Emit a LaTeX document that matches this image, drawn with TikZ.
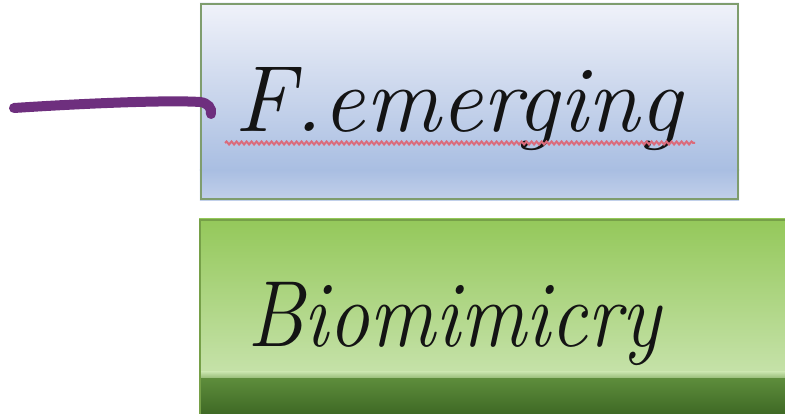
\documentclass[tikz,border=0pt]{standalone}
\usetikzlibrary{decorations.pathmorphing,backgrounds}
\definecolor{frameGreen}{HTML}{7F9D6E}
\definecolor{skyTop}{HTML}{F0F2FA}
\definecolor{skyMid}{HTML}{CAD6EC}
\definecolor{skyLow}{HTML}{A9BEE2}
\definecolor{skyBot}{HTML}{C2D0EA}
\definecolor{leafTop}{HTML}{94C85A}
\definecolor{leafMid}{HTML}{C6E2AA}
\definecolor{leafDarkTop}{HTML}{5E8E3C}
\definecolor{leafDarkBot}{HTML}{3C6623}
\definecolor{inkPurple}{HTML}{6E2F7E}
\definecolor{waveRed}{HTML}{D2465A}
\tikzset{
  boxframe/.style={draw=frameGreen, line width=2.2pt, inner sep=0pt},
  bigword/.style={font=\fontsize{94}{100}\selectfont\itshape, text=black!92, inner sep=0pt, anchor=base},
}
\begin{document}
\begin{tikzpicture}[x=1pt,y=1pt]
\useasboundingbox (0,0) rectangle (785,414);

% the two boxes (frames only; gradients go on the background layer)
\node[boxframe, minimum width=537pt, minimum height=195pt] (top) at (469.5,312.5) {};
\node[draw=leafTop!80!black, line width=2pt, inner sep=0pt,
  minimum width=590pt, minimum height=196pt] (bottom) at (495,96) {};

\begin{scope}[on background layer]
  % pale blue vertical gradient of the upper box
  \shade[top color=skyTop, bottom color=skyMid]
    (top.north west) rectangle ([yshift=-90pt]top.north east);
  \shade[top color=skyMid, bottom color=skyLow]
    ([yshift=-90.5pt]top.north west) rectangle ([yshift=30pt]top.south east);
  \shade[top color=skyLow, bottom color=skyBot]
    ([yshift=30.5pt]top.south west) rectangle (top.south east);
  % lower box: light green fading down into a dark green band
  \shade[top color=leafTop, bottom color=leafMid]
    (bottom.north west) rectangle ([yshift=43pt]bottom.south east);
  \shade[top color=leafDarkTop, bottom color=leafDarkBot]
    ([yshift=39.5pt]bottom.south west) rectangle (bottom.south east);
  \shade[top color=leafMid, bottom color=leafMid!55!leafDarkTop]
    ([yshift=45pt]bottom.south west) rectangle ([yshift=39pt]bottom.south east);
\end{scope}

% labels
\node[bigword] (emerging) at (458,282) {F.emerging};
\node[bigword, xscale=0.875] (biomim) at (454,67) {Biomimicry};

% wavy spell-check underline
\coordinate (waveL) at (225,271);
\coordinate (waveR) at (695,271);
\draw[waveRed!80, line width=2pt, decorate,
  decoration={snake, amplitude=1.5pt, segment length=5pt}] (waveL) -- (waveR);

% hand-drawn purple stroke running into the upper box
\coordinate (strokeStart) at (14,306);
\coordinate (strokeEnd) at (211,300);
\draw[inkPurple, line width=10pt, line cap=round]
  (strokeStart) .. controls (90,311) and (170,314) .. (200,312)
  .. controls (208,311) and (212,306) .. (strokeEnd);
\end{tikzpicture}
\end{document}
